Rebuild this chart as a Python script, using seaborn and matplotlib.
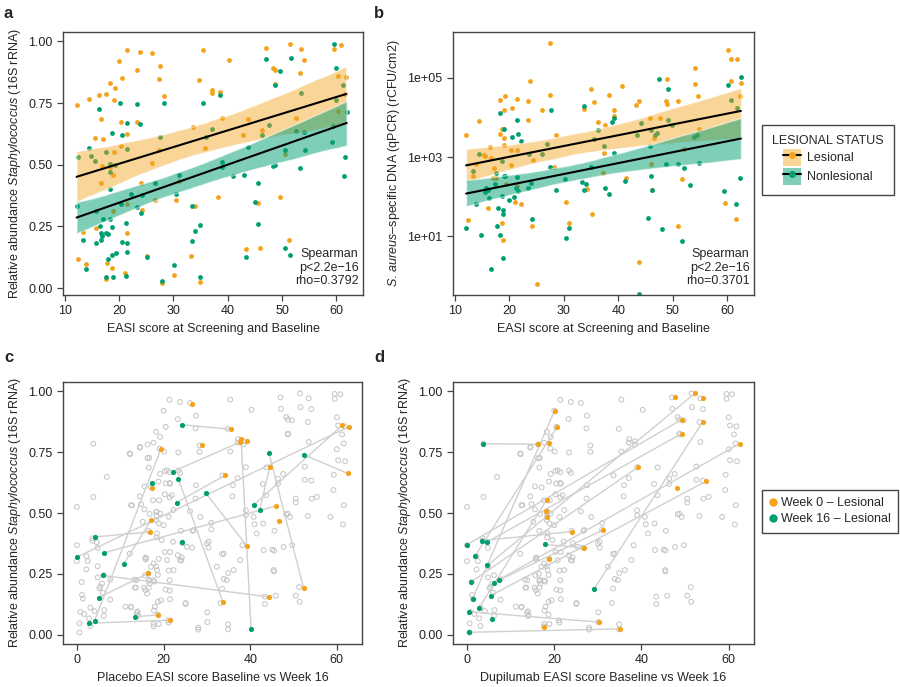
import numpy as np
import matplotlib
matplotlib.use("Agg")
import matplotlib.pyplot as plt
from matplotlib.lines import Line2D
from matplotlib.patches import Patch
import seaborn as sns

# ---- panel a: EASI vs relative abundance Staphylococcus ----
a_les_x = [12.2, 12.5, 14.5, 13.3, 14.0, 15.6, 15.7, 16.3, 16.6, 16.6, 16.8, 17.1, 17.7, 17.8, 17.7,
           18.3, 18.3, 18.4, 19.0, 18.9, 19.1, 19.2, 18.7, 18.9, 20.0, 20.5, 20.3, 20.3, 21.4, 21.4,
           21.4, 21.1, 21.5, 23.3, 23.4, 23.8, 24.0, 24.2, 25.1, 26.1, 26.1, 26.6, 27.5, 27.4, 27.4,
           28.3, 28.0, 30.1, 30.4, 31.0, 33.2, 33.6, 33.9, 34.8, 35.4, 34.9, 35.9, 37.1, 37.2, 38.5,
           38.2, 39.0, 40.3, 42.9, 43.7, 43.4, 45.5, 45.9, 47.0, 46.4, 48.3, 48.7, 48.7, 49.7, 51.3,
           50.5, 51.5, 52.6, 53.5, 53.3, 54.1, 59.5, 60.8, 60.3, 61.8, 61.6, 60.3]
a_les_y = [0.744, 0.116, 0.768, 0.227, 0.097, 0.609, 0.244, 0.781, 0.686, 0.427, 0.496, 0.605, 0.788,
           0.100, 0.035, 0.833, 0.505, 0.490, 0.552, 0.457, 0.764, 0.812, 0.083, 0.312, 0.919, 0.853,
           0.577, 0.672, 0.964, 0.623, 0.224, 0.060, 0.340, 0.885, 0.674, 0.955, 0.427, 0.318, 0.131,
           0.951, 0.507, 0.358, 0.899, 0.847, 0.559, 0.777, 0.022, 0.053, 0.358, 0.433, 0.131, 0.654,
           0.333, 0.845, 0.965, 0.023, 0.568, 0.789, 0.803, 0.794, 0.368, 0.688, 0.923, 0.619, 0.687,
           0.157, 0.346, 0.161, 0.974, 0.641, 0.893, 0.883, 0.826, 0.368, 0.196, 0.543, 0.990, 0.690,
           0.970, 0.873, 0.926, 0.968, 0.987, 0.859, 0.855, 0.785, 0.716]
a_non_x = [12.2, 12.5, 13.4, 14.0, 14.5, 14.8, 15.6, 15.8, 15.8, 16.3, 16.5, 16.6, 16.8, 16.6, 17.1,
           17.6, 17.7, 17.9, 18.0, 17.7, 18.3, 18.4, 18.4, 18.3, 18.7, 18.7, 18.8, 18.9, 19.2, 19.4,
           20.1, 20.5, 20.3, 20.5, 21.4, 21.4, 21.2, 21.4, 21.5, 21.2, 22.2, 23.4, 23.8, 23.3, 24.1,
           24.3, 25.1, 26.7, 27.5, 28.3, 28.0, 30.1, 30.4, 31.0, 33.5, 33.5, 33.9, 34.9, 34.9, 35.4,
           36.0, 37.1, 38.5, 39.0, 39.0, 41.0, 43.0, 43.7, 43.4, 45.1, 45.5, 45.6, 46.4, 47.1, 47.6,
           48.7, 48.3, 48.7, 49.6, 50.5, 50.5, 51.4, 51.6, 52.6, 53.5, 53.3, 54.1, 54.2, 59.2, 59.3,
           59.5, 60.0, 60.0, 61.2, 61.4, 61.6, 61.9]
a_non_y = [0.333, 0.532, 0.194, 0.078, 0.568, 0.536, 0.515, 0.184, 0.313, 0.725, 0.251, 0.222, 0.211,
           0.194, 0.279, 0.552, 0.224, 0.219, 0.116, 0.045, 0.471, 0.505, 0.400, 0.281, 0.246, 0.136,
           0.629, 0.045, 0.498, 0.142, 0.752, 0.621, 0.340, 0.186, 0.668, 0.564, 0.264, 0.182, 0.147,
           0.051, 0.382, 0.748, 0.664, 0.327, 0.305, 0.376, 0.127, 0.427, 0.614, 0.751, 0.030, 0.093,
           0.382, 0.459, 0.190, 0.332, 0.230, 0.254, 0.043, 0.752, 0.614, 0.643, 0.781, 0.511, 0.491,
           0.454, 0.457, 0.573, 0.127, 0.350, 0.260, 0.427, 0.619, 0.927, 0.660, 0.822, 0.495, 0.497,
           0.880, 0.559, 0.161, 0.136, 0.934, 0.636, 0.791, 0.488, 0.633, 0.559, 0.594, 0.657, 0.988,
           0.892, 0.761, 0.822, 0.453, 0.532, 0.712]

# ---- panel b: EASI vs S. aureus qPCR, values as log10(rCFU/cm2) ----
b_les_x = [12.1, 12.4, 13.3, 13.9, 14.4, 15.4, 15.6, 16.1, 16.4, 16.7, 17.0, 17.2, 17.6, 18.3, 18.3,
           18.6, 18.7, 18.9, 19.0, 19.1, 19.1, 19.3, 19.4, 20.3, 20.4, 20.6, 21.1, 21.5, 21.4, 21.5,
           22.2, 23.4, 23.5, 23.9, 24.2, 24.4, 25.1, 26.1, 27.4, 27.5, 28.2, 28.5, 30.5, 31.0, 33.7,
           34.2, 35.0, 35.2, 35.6, 36.2, 37.2, 37.5, 37.4, 38.4, 39.3, 39.3, 40.7, 41.5, 43.3, 43.9,
           43.8, 45.8, 46.0, 46.2, 46.6, 47.6, 49.0, 48.7, 49.0, 51.0, 50.9, 51.7, 52.1, 54.0, 54.0,
           54.7, 54.8, 60.1, 60.6, 61.8, 60.6, 62.5, 62.4, 59.5, 61.6]
b_les_log = [3.55, 1.42, 2.52, 2.82, 3.92, 3.05, 3.03, 1.71, 3.25, 2.98, 2.48, 2.73, 2.48, 4.45, 3.59,
             3.70, 1.33, 0.91, 3.49, 3.30, 4.20, 4.54, 2.31, 3.18, 2.80, 4.23, 1.87, 4.48, 3.17, 2.27,
             1.81, 4.41, 3.95, 4.93, 1.26, 2.94, -0.19, 4.20, 4.58, 5.87, 2.75, 3.57, 1.87, 1.34, 4.22,
             2.20, 4.73, 1.57, 4.39, 3.89, 2.59, 3.81, 3.11, 4.56, 4.18, 4.03, 4.79, 2.48, 4.32, 4.43,
             0.35, 3.99, 2.82, 2.16, 3.49, 3.99, 4.98, 4.43, 4.34, 4.41, 1.26, 2.46, 3.21, 5.25, 4.85,
             4.55, 3.70, 5.70, 5.47, 5.49, 4.92, 4.88, 4.55, 1.84, 1.43]
b_non_x = [12.1, 13.3, 14.4, 13.9, 14.8, 15.6, 15.8, 16.3, 16.1, 16.7, 17.4, 17.5, 17.7, 17.9, 18.3,
           18.6, 18.3, 18.7, 18.8, 18.9, 19.0, 19.1, 19.3, 18.9, 20.0, 20.6, 20.9, 21.2, 21.5, 21.6,
           21.5, 21.7, 22.1, 23.4, 23.6, 24.0, 24.2, 26.1, 26.9, 27.6, 27.5, 28.6, 30.2, 30.4, 31.0,
           33.3, 33.7, 34.1, 33.8, 35.0, 35.6, 36.3, 37.5, 37.4, 38.4, 38.8, 39.2, 39.3, 41.3, 43.5,
           43.8, 44.1, 45.5, 45.8, 46.0, 46.2, 46.1, 46.7, 47.1, 47.5, 48.1, 48.7, 49.1, 49.1, 49.9,
           50.9, 51.7, 52.0, 53.1, 53.9, 54.4, 54.8, 62.5, 60.1, 60.6, 61.8, 62.4, 59.4, 61.6]
b_non_log = [1.21, 2.65, 3.07, 1.83, 1.03, 2.13, 2.23, 1.98, 2.16, 0.18, 2.33, 2.60, 1.25, 1.72, 4.12,
             2.90, 1.03, 2.03, 1.57, 1.66, 3.70, 2.52, 2.53, 0.46, 1.92, 3.50, 1.99, 2.23, 3.95, 3.59,
             2.50, 2.14, 3.42, 2.23, 3.07, 2.34, 1.43, 3.09, 3.34, 4.20, 2.75, 2.16, 2.46, 0.95, 1.22,
             2.37, 2.16, 2.31, 4.30, 2.75, 3.45, 3.68, 2.21, 3.28, 2.08, 3.88, 3.99, 3.10, 2.39, 3.57,
             -0.45, 3.85, 1.47, 3.29, 2.52, 2.17, 3.68, 3.55, 3.60, 4.97, 1.19, 2.82, 4.73, 3.95, 3.81,
             2.82, 0.88, 2.73, 2.29, 3.50, 3.57, 2.86, 5.02, 4.83, 4.45, 4.24, 2.47, 2.15, 1.82]
b_ticks = [1, 3, 5]
b_ticklabels = ["1e+01", "1e+03", "1e+05"]

# ---- extra grey samples shown in c and d (week 16 and others) ----
bg_x = [0.0, 0.0, 0.0, 0.6, 0.6, 0.8, 1.2, 1.4, 1.1, 2.2, 2.5, 2.2, 1.7, 2.8, 3.1, 3.1, 3.8, 3.8, 3.6,
        3.6, 4.1, 4.6, 4.8, 4.8, 4.8, 5.2, 5.4, 5.8, 6.2, 6.0, 6.2, 6.3, 6.9, 7.7, 7.7, 11.2, 12.5,
        13.6, 13.8, 13.8, 14.1, 12.3, 12.7, 14.6, 15.2, 15.5, 16.2, 15.9, 15.9, 16.7, 16.7, 19.2,
        20.8, 21.5, 21.9, 22.3, 21.2, 20.0, 18.5, 19.6, 17.7, 18.5, 20.8, 22.3, 23.8, 25.4, 26.9,
        28.5, 30.0, 32.3, 34.6, 36.2, 37.7, 40.8, 41.5, 43.1, 45.4, 47.7, 49.2, 55.4, 58.5]
bg_y = [0.525, 0.368, 0.303, 0.010, 0.048, 0.095, 0.164, 0.149, 0.217, 0.323, 0.303, 0.269, 0.086,
        0.068, 0.037, 0.112, 0.784, 0.566, 0.396, 0.386, 0.098, 0.380, 0.357, 0.282, 0.236, 0.191,
        0.198, 0.211, 0.245, 0.173, 0.078, 0.102, 0.648, 0.145, 0.228, 0.116, 0.113, 0.194, 0.225,
        0.091, 0.082, 0.741, 0.532, 0.771, 0.464, 0.194, 0.170, 0.310, 0.318, 0.225, 0.726, 0.660,
        0.675, 0.620, 0.573, 0.512, 0.484, 0.450, 0.416, 0.389, 0.293, 0.266, 0.307, 0.266, 0.307,
        0.361, 0.430, 0.484, 0.375, 0.280, 0.225, 0.266, 0.307, 0.484, 0.416, 0.348, 0.266, 0.361,
        0.484, 0.566, 0.484]

# ---- panel c: placebo, week 16 -> week 0 pairs ----
c_w16_x = [24.2, 22.2, 23.4, 29.7, 40.2, 44.3, 42.2, 40.8, 52.4, 0.0, 4.2, 6.3, 10.8, 6.0, 5.0, 4.1,
           2.9, 13.5, 23.0]
c_w16_y = [0.862, 0.670, 0.640, 0.583, 0.025, 0.748, 0.514, 0.532, 0.739, 0.319, 0.402, 0.337, 0.291,
           0.244, 0.153, 0.059, 0.048, 0.075, 0.543]
c_w0_x = [35.6, 37.6, 33.7, 39.2, 37.9, 52.3, 44.5, 61.2, 62.5, 62.8, 16.8, 46.0, 17.1, 44.3, 16.4,
          19.4, 21.5, 18.7, 34.3]
c_w0_y = [0.843, 0.790, 0.134, 0.366, 0.802, 0.194, 0.688, 0.859, 0.662, 0.854, 0.422, 0.529, 0.470,
          0.156, 0.252, 0.763, 0.061, 0.082, 0.655]
c_solo_w0_x = [26.5, 28.8, 39.3, 46.6, 17.3]
c_solo_w0_y = [0.948, 0.778, 0.794, 0.468, 0.603]
c_solo_w16_x = [17.4, 24.2]
c_solo_w16_y = [0.622, 0.382]

# ---- panel d: dupilumab, week 16 -> week 0 pairs ----
d_w16_x = [3.7, 1.3, 1.9, 0.0, 4.7, 3.5, 2.8, 1.0, 4.7, 29.2, 5.4, 6.1, 7.4, 0.5, 0.4, 17.8]
d_w16_y = [0.784, 0.149, 0.325, 0.370, 0.382, 0.387, 0.112, 0.218, 0.285, 0.190, 0.161, 0.214, 0.225,
           0.095, 0.011, 0.371]
d_w0_x = [16.3, 20.1, 20.6, 49.2, 49.2, 24.1, 18.3, 39.3, 52.2, 54.0, 54.8, 62.5, 31.1, 30.2, 35.1,
          26.8]
d_w0_y = [0.782, 0.920, 0.851, 0.883, 0.825, 0.424, 0.555, 0.689, 0.990, 0.872, 0.630, 0.784, 0.430,
          0.053, 0.025, 0.357]
d_solo_w0_x = [47.6, 54.1, 18.7, 18.2, 18.4, 18.7, 17.7, 48.2]
d_solo_w0_y = [0.974, 0.970, 0.787, 0.510, 0.484, 0.310, 0.034, 0.603]
d_solo_w16_x = [5.7]
d_solo_w16_y = [0.064]

ORANGE = "#F5A21B"
GREEN = "#009E73"
GREY = "#C4C4C4"
FRAME = "#444444"

sns.set_style("ticks")
plt.rcParams["font.family"] = ["Liberation Sans", "DejaVu Sans"]
plt.rcParams["mathtext.fontset"] = "custom"
plt.rcParams["mathtext.it"] = "Liberation Sans:italic"
plt.rcParams["mathtext.rm"] = "Liberation Sans"
plt.rcParams["font.size"] = 9

STAPH_LABEL = r"Relative abundance $\mathit{Staphylococcus}$ (16S rRNA)"
AUREUS_LABEL = r"$\mathit{S.\,aureus}$" + "\u2013specific DNA (qPCR) (rCFU/cm2)"


def style_axes(ax):
    for sp in ax.spines.values():
        sp.set_visible(True)
        sp.set_color(FRAME)
        sp.set_linewidth(1.0)
    ax.tick_params(direction="out", length=4, width=0.9, color=FRAME, labelsize=9,
                   labelcolor="#222222")


def fit_panel(ax, x, y, color, band_alpha):
    sns.regplot(x=np.array(x), y=np.array(y), ax=ax, scatter=False, ci=95, n_boot=1000, seed=3,
                color=color, line_kws=dict(color="black", lw=1.5))
    band = ax.collections[-1]
    band.set_alpha(band_alpha)
    band.set_facecolor(color)


fig = plt.figure(figsize=(9, 6.87), dpi=100)
ax_a = fig.add_axes([63 / 900, 1 - 295 / 687, 300 / 900, 263 / 687])
ax_b = fig.add_axes([453 / 900, 1 - 295 / 687, 301 / 900, 263 / 687])
ax_c = fig.add_axes([63 / 900, 1 - 644 / 687, 299 / 900, 262 / 687])
ax_d = fig.add_axes([453 / 900, 1 - 644 / 687, 301 / 900, 262 / 687])

# panel a
sns.scatterplot(x=a_les_x, y=a_les_y, ax=ax_a, color=ORANGE, s=12, linewidth=0)
sns.scatterplot(x=a_non_x, y=a_non_y, ax=ax_a, color=GREEN, s=12, linewidth=0)
fit_panel(ax_a, a_les_x, a_les_y, ORANGE, 0.45)
fit_panel(ax_a, a_non_x, a_non_y, GREEN, 0.5)
ax_a.set_xlim(9.7, 64.9)
ax_a.set_ylim(-0.028, 1.038)
ax_a.set_xticks([10, 20, 30, 40, 50, 60])
ax_a.set_yticks([0, 0.25, 0.5, 0.75, 1.0])
ax_a.set_yticklabels(["0.00", "0.25", "0.50", "0.75", "1.00"])
ax_a.set_xlabel("EASI score at Screening and Baseline")
ax_a.set_ylabel(STAPH_LABEL)
ax_a.text(0.985, 0.03, "Spearman\np<2.2e\u221216\nrho=0.3792", transform=ax_a.transAxes,
          ha="right", va="bottom", fontsize=9, linespacing=1.15)

# panel b
sns.scatterplot(x=b_les_x, y=b_les_log, ax=ax_b, color=ORANGE, s=12, linewidth=0)
sns.scatterplot(x=b_non_x, y=b_non_log, ax=ax_b, color=GREEN, s=12, linewidth=0)
fit_panel(ax_b, b_les_x, b_les_log, ORANGE, 0.45)
fit_panel(ax_b, b_non_x, b_non_log, GREEN, 0.5)
ax_b.set_xlim(9.7, 64.9)
ax_b.set_ylim(-0.48, 6.16)
ax_b.set_xticks([10, 20, 30, 40, 50, 60])
ax_b.set_yticks(b_ticks)
ax_b.set_yticklabels(b_ticklabels)
ax_b.set_xlabel("EASI score at Screening and Baseline")
ax_b.set_ylabel(AUREUS_LABEL)
ax_b.text(0.985, 0.03, "Spearman\np<2.2e\u221216\nrho=0.3701", transform=ax_b.transAxes,
          ha="right", va="bottom", fontsize=9, linespacing=1.15)

# panels c and d
grey_x = a_les_x + a_non_x + bg_x
grey_y = a_les_y + a_non_y + bg_y
panels = [
    (ax_c, c_w16_x, c_w16_y, c_w0_x, c_w0_y, c_solo_w0_x, c_solo_w0_y, c_solo_w16_x, c_solo_w16_y,
     "Placebo EASI score Baseline vs Week 16"),
    (ax_d, d_w16_x, d_w16_y, d_w0_x, d_w0_y, d_solo_w0_x, d_solo_w0_y, d_solo_w16_x, d_solo_w16_y,
     "Dupilumab EASI score Baseline vs Week 16"),
]
for ax, gx, gy, ox, oy, sox, soy, sgx, sgy, xlabel in panels:
    ax.scatter(grey_x, grey_y, s=12, facecolors="none", edgecolors=GREY, linewidths=0.7, zorder=1)
    for x0, y0, x1, y1 in zip(gx, gy, ox, oy):
        ax.plot([x0, x1], [y0, y1], color="#D0D0D0", lw=1.0, zorder=2)
    sns.scatterplot(x=ox + sox, y=oy + soy, ax=ax, color=ORANGE, s=14, linewidth=0, zorder=3)
    sns.scatterplot(x=gx + sgx, y=gy + sgy, ax=ax, color=GREEN, s=14, linewidth=0, zorder=3)
    ax.set_xlim(-3.2, 65.8)
    ax.set_ylim(-0.037, 1.037)
    ax.set_xticks([0, 20, 40, 60])
    ax.set_yticks([0, 0.25, 0.5, 0.75, 1.0])
    ax.set_yticklabels(["0.00", "0.25", "0.50", "0.75", "1.00"])
    ax.set_xlabel(xlabel)
    ax.set_ylabel(STAPH_LABEL)

for ax in (ax_a, ax_b, ax_c, ax_d):
    style_axes(ax)

# legends
les_handle = (Patch(facecolor=ORANGE, alpha=0.45, edgecolor="none"),
              Line2D([], [], color="black", lw=1.5, marker="o", markersize=4,
                     markerfacecolor=ORANGE, markeredgecolor=ORANGE))
non_handle = (Patch(facecolor=GREEN, alpha=0.5, edgecolor="none"),
              Line2D([], [], color="black", lw=1.5, marker="o", markersize=4,
                     markerfacecolor=GREEN, markeredgecolor=GREEN))
leg1 = fig.legend([les_handle, non_handle], ["Lesional", "Nonlesional"], title="LESIONAL STATUS",
                  loc="upper left", bbox_to_anchor=(762 / 900, 1 - 125 / 687),
                  bbox_transform=fig.transFigure, borderaxespad=0, fancybox=False,
                  edgecolor=FRAME, framealpha=1, fontsize=9, title_fontsize=9,
                  handlelength=1.4, handleheight=1.7, borderpad=0.8, labelspacing=0.15,
                  handletextpad=0.5)
leg1.get_frame().set_linewidth(1.0)

wk_handles = [Line2D([], [], lw=0, marker="o", markersize=5, markerfacecolor=ORANGE,
                     markeredgecolor=ORANGE),
              Line2D([], [], lw=0, marker="o", markersize=5, markerfacecolor=GREEN,
                     markeredgecolor=GREEN)]
leg2 = fig.legend(wk_handles, ["Week 0 \u2013 Lesional", "Week 16 \u2013 Lesional"],
                  loc="upper left", bbox_to_anchor=(762 / 900, 1 - 490 / 687),
                  bbox_transform=fig.transFigure, borderaxespad=0, fancybox=False,
                  edgecolor=FRAME, framealpha=1, fontsize=9, handlelength=0.6,
                  handletextpad=0.3, borderpad=0.6, labelspacing=0.3)
leg2.get_frame().set_linewidth(1.0)

for lab, (px, py) in zip("abcd", [(4, 6), (374, 6), (4, 350), (374, 350)]):
    fig.text(px / 900, 1 - py / 687, lab, fontsize=12, fontweight="bold", va="top", ha="left")

fig.savefig("out.png", dpi=100)
